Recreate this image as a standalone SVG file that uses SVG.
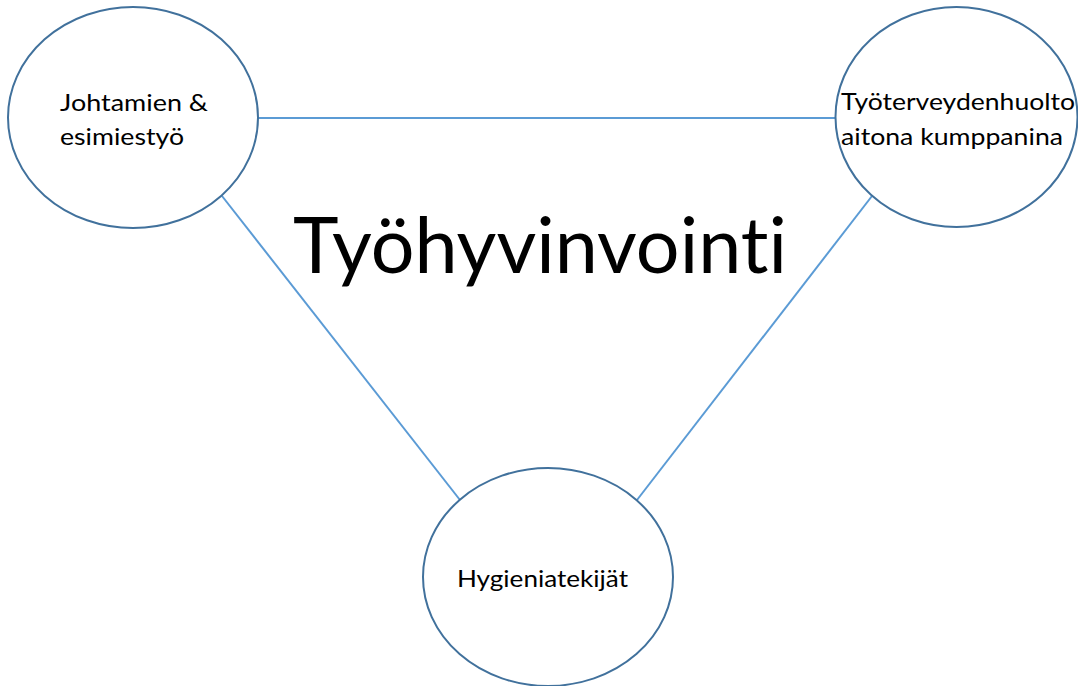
<svg xmlns="http://www.w3.org/2000/svg" width="1078" height="686" viewBox="0 0 1078 686">
<style>
.node{fill:#ffffff;stroke:#41719c;stroke-width:2}
.conn{stroke:#5b9bd5;stroke-width:2;fill:none}
text{font-family:Lato,"Open Sans","Liberation Sans",sans-serif;fill:#000000;font-variant-ligatures:none;font-feature-settings:"liga" 0,"clig" 0}
.lbl{font-size:24px}
.title{font-size:78px}
</style>
<rect width="1078" height="686" fill="#ffffff"/>
<g id="connectors">
<line class="conn" x1="258" y1="118" x2="836" y2="118"/>
<line class="conn" x1="222" y1="196" x2="460" y2="500"/>
<line class="conn" x1="872" y1="196" x2="637" y2="500"/>
</g>
<g id="node-johtaminen">
<ellipse class="node" cx="133" cy="117.5" rx="125" ry="110.5"/>
<text class="lbl" x="60" y="111" textLength="148" lengthAdjust="spacingAndGlyphs">Johtamien &amp;</text>
<text class="lbl" x="60" y="145" textLength="124" lengthAdjust="spacingAndGlyphs">esimiestyö</text>
</g>
<g id="node-tyoterveys">
<ellipse class="node" cx="956.5" cy="117" rx="121" ry="110"/>
<text class="lbl" x="841" y="110" textLength="234" lengthAdjust="spacingAndGlyphs">Työterveydenhuolto</text>
<text class="lbl" x="841" y="145" textLength="222" lengthAdjust="spacingAndGlyphs">aitona kumppanina</text>
</g>
<g id="node-hygienia">
<ellipse class="node" cx="548" cy="577" rx="125" ry="109"/>
<text class="lbl" x="457" y="587" textLength="171" lengthAdjust="spacingAndGlyphs">Hygieniatekijät</text>
</g>
<g id="title">
<text class="title" x="293" y="273" textLength="494" lengthAdjust="spacingAndGlyphs">Työhyvinvointi</text>
</g>
</svg>
